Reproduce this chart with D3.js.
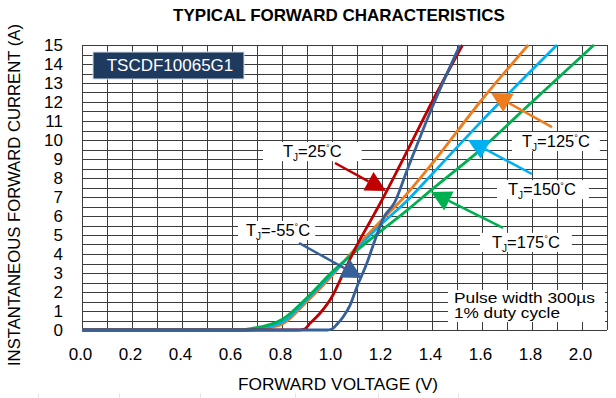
<!DOCTYPE html>
<html>
<head>
<meta charset="utf-8">
<script src="https://cdn.jsdelivr.net/npm/d3@7"></script>
<style>
  body { margin: 0; background: #fff; }
  text { font-family: "Liberation Sans", Arial, sans-serif; }
</style>
</head>
<body>
<div class="chart"></div>
<script>
// axis ticks
const xTicks = [0.0, 0.2, 0.4, 0.6, 0.8, 1.0, 1.2, 1.4, 1.6, 1.8, 2.0];
const yTicks = [0, 1, 2, 3, 4, 5, 6, 7, 8, 9, 10, 11, 12, 13, 14, 15];

// series: forward voltage (V) and current (A)
const temps = ['-55', '25', '125', '150', '175'];

const vM55 = [0, 0.98, 1.0, 1.02, 1.045, 1.072, 1.1, 1.139, 1.172, 1.205, 1.25, 1.3, 1.4, 1.512];
const iM55 = [0, 0, 0.05, 0.3, 0.7, 1.3, 2.28, 3.5, 4.74, 5.88, 6.7, 8.4, 11.7, 15];

const v25 = [0, 0.86, 0.89, 0.912, 0.952, 1.0, 1.045, 1.1, 1.152, 1.2, 1.3, 1.4, 1.522];
const i25 = [0, 0, 0.05, 0.35, 0.88, 1.75, 2.98, 4.47, 5.7, 6.84, 9.4, 12.0, 15];

const v125 = [0, 0.68, 0.7, 0.75, 0.8, 0.9, 1.0, 1.1, 1.2, 1.285, 1.4, 1.592, 1.785];
const i125 = [0, 0, 0.05, 0.12, 0.3, 1.5, 2.85, 4.4, 5.8, 6.95, 8.75, 12.0, 15];

const v150 = [0, 0.66, 0.7, 0.8, 0.9, 1.0, 1.1, 1.2, 1.3, 1.4, 1.592, 1.9];
const i150 = [0, 0, 0.08, 0.4, 1.6, 2.95, 4.3, 5.6, 6.8, 8.2, 10.9, 15];

const v175 = [0, 0.63, 0.68, 0.8, 0.9, 1.0, 1.1, 1.2, 1.3, 1.4, 1.592, 1.8, 2.048];
const i175 = [0, 0, 0.08, 0.55, 1.7, 3.05, 4.2, 5.26, 6.3, 7.4, 9.47, 12.0, 15];

const margin = { left: 82, right: 9, top: 45, bottom: 68 };
const W = 616, H = 398;
const width = W - margin.left - margin.right;
const height = H - margin.top - margin.bottom;

const colors = { '-55': '#35609a', '25': '#c00000', '125': '#ef7d1e', '150': '#00b0f0', '175': '#00b050' };

// annotations, placed in data units
const notes = [
  { t: '25', tip: [1.216, 7.32], tail: [1.012, 8.79], at: [0.804, 9.1], padL: 20, padR: 20 },
  { t: '-55', tip: [1.12, 2.74], tail: [0.868, 4.58], at: [0.656, 4.95], padL: 8, padR: 5 },
  { t: '125', tip: [1.636, 12.47], tail: [1.88, 10.68], at: [1.76, 9.63], padL: 10, padR: 10 },
  { t: '150', tip: [1.544, 10.0], tail: [1.8, 8.21], at: [1.704, 7.1], padL: 11, padR: 13 },
  { t: '175', tip: [1.396, 7.26], tail: [1.684, 5.37], at: [1.64, 4.32], padL: 12, padR: 12 },
];

const svg = d3.select('.chart').append('svg')
  .attr('width', W)
  .attr('height', H);

const x = d3.scaleLinear().domain([0, 2.1]).range([margin.left, margin.left + width]);
const y = d3.scaleLinear().domain([0, 15]).range([margin.top + height, margin.top]);

// title
svg.append('text')
  .attr('x', 339).attr('y', 21)
  .attr('text-anchor', 'middle')
  .attr('font-size', 17).attr('font-weight', 'bold')
  .text('TYPICAL FORWARD CHARACTERISTICS');

// grid
const grid = svg.append('g').attr('stroke', '#3c3c3c').attr('stroke-width', 1);
d3.range(0, 21.5, 1).forEach(k => {
  const px = Math.round(x(k / 10)) + 0.5;
  grid.append('line').attr('x1', px).attr('x2', px).attr('y1', y(15)).attr('y2', y(0));
});
d3.range(0, 30.5, 1).forEach(k => {
  const py = Math.round(y(k / 2)) + 0.5;
  grid.append('line').attr('x1', x(0)).attr('x2', x(2.1)).attr('y1', py).attr('y2', py);
});

// axes
const xAxis = svg.append('g')
  .attr('transform', `translate(-2, ${y(0) + 15})`)
  .call(d3.axisBottom(x).tickValues(xTicks).tickFormat(d3.format('.1f')).tickSize(0));
xAxis.select('.domain').remove();
xAxis.selectAll('text').attr('font-size', 17).attr('fill', '#000')
  .attr('font-family', '"Liberation Sans", Arial, sans-serif');

const yAxis = svg.append('g')
  .attr('transform', `translate(${x(0) - 16}, 0)`)
  .call(d3.axisLeft(y).tickValues(yTicks).tickSize(0));
yAxis.select('.domain').remove();
yAxis.selectAll('text').attr('font-size', 17).attr('fill', '#000')
  .attr('font-family', '"Liberation Sans", Arial, sans-serif');

svg.append('text')
  .attr('x', 338).attr('y', 390)
  .attr('text-anchor', 'middle').attr('font-size', 17.3)
  .text('FORWARD VOLTAGE (V)');

svg.append('text')
  .attr('transform', 'translate(19.5, 195) rotate(-90)')
  .attr('text-anchor', 'middle').attr('font-size', 16.7)
  .text('INSTANTANEOUS FORWARD CURRENT (A)');

// part number box
svg.append('rect')
  .attr('x', 93).attr('y', 52).attr('width', 151).attr('height', 27)
  .attr('fill', '#1f3a5f').attr('stroke', '#d8dee8').attr('stroke-width', 1);
svg.append('text')
  .attr('x', 170).attr('y', 71)
  .attr('text-anchor', 'middle').attr('font-size', 17).attr('fill', '#fff')
  .text('TSCDF10065G1');

// pulse note
svg.append('rect')
  .attr('x', 448).attr('y', 290).attr('width', 157).attr('height', 32)
  .attr('fill', '#fff');
svg.append('text')
  .attr('x', 454).attr('y', 303).attr('font-size', 14)
  .attr('textLength', 141).attr('lengthAdjust', 'spacingAndGlyphs')
  .text('Pulse width 300\u00b5s');
svg.append('text')
  .attr('x', 454).attr('y', 318).attr('font-size', 14)
  .attr('textLength', 106).attr('lengthAdjust', 'spacingAndGlyphs')
  .text('1% duty cycle');

// curves
const series = {
  '-55': d3.zip(vM55, iM55),
  '25': d3.zip(v25, i25),
  '125': d3.zip(v125, i125),
  '150': d3.zip(v150, i150),
  '175': d3.zip(v175, i175),
};
const line = d3.line()
  .x(d => x(d[0]))
  .y(d => y(d[1]))
  .curve(d3.curveMonotoneX);

['125', '150', '175', '25', '-55'].forEach(t => {
  svg.append('path')
    .datum(series[t])
    .attr('fill', 'none')
    .attr('stroke', colors[t])
    .attr('stroke-width', 2.8)
    .attr('stroke-linejoin', 'round')
    .attr('d', line);
});

// labels with arrows
notes.forEach(n => {
  const g = svg.append('g');
  const tx = x(n.at[0]), ty = y(n.at[1]);
  const box = g.append('rect').attr('fill', '#fff');
  const label = g.append('text')
    .attr('x', tx).attr('y', ty).attr('font-size', 16.5);
  label.append('tspan').text('T');
  label.append('tspan').attr('font-size', 10).attr('dy', 4).text('J');
  label.append('tspan').attr('dy', -4).text('=' + n.t);
  label.append('tspan').attr('font-size', 9).attr('dy', -6).text('\u00b0');
  label.append('tspan').attr('dy', 6).text('C');
  const bb = label.node().getBBox();
  box.attr('x', bb.x - n.padL).attr('y', ty - 15)
    .attr('width', bb.width + n.padL + n.padR).attr('height', 19);

  const x1 = x(n.tail[0]), y1 = y(n.tail[1]);
  const x2 = x(n.tip[0]), y2 = y(n.tip[1]);
  const ang = Math.atan2(y2 - y1, x2 - x1);
  const len = 20, half = 10.5;
  const bx = x2 - len * Math.cos(ang), by = y2 - len * Math.sin(ang);
  g.append('line')
    .attr('x1', x1).attr('y1', y1).attr('x2', bx).attr('y2', by)
    .attr('stroke', colors[n.t]).attr('stroke-width', 2.5);
  g.append('path')
    .attr('d', d3.line()([
      [x2, y2],
      [bx + half * Math.sin(ang), by - half * Math.cos(ang)],
      [bx - half * Math.sin(ang), by + half * Math.cos(ang)],
    ]) + 'Z')
    .attr('fill', colors[n.t]);
});

// faint marks along the lower edge
[38, 119, 200, 295, 378, 458].forEach(px => {
  svg.append('line')
    .attr('x1', px + 0.5).attr('x2', px + 0.5).attr('y1', 393).attr('y2', 398)
    .attr('stroke', '#e4e4e4');
});
</script>
</body>
</html>
